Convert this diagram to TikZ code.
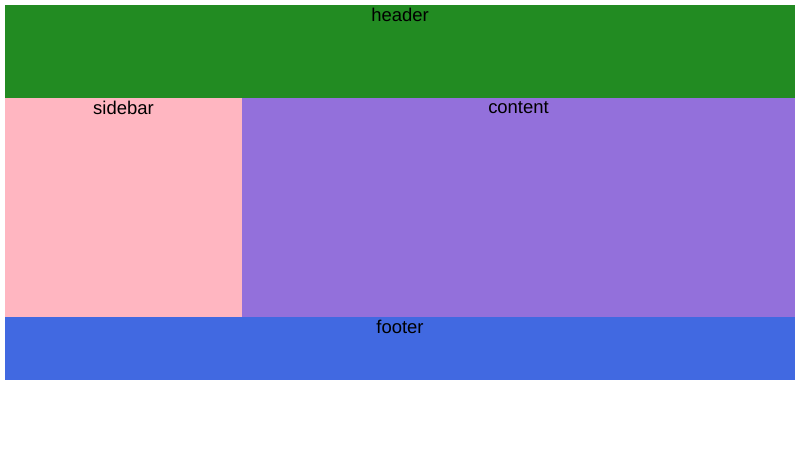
\documentclass[tikz,border=0pt]{standalone}
\usepackage{fontspec}
\setmainfont{Liberation Sans}
\definecolor{hdrgreen}{RGB}{34,139,34}
\definecolor{sidepink}{RGB}{255,182,193}
\definecolor{mainpurple}{RGB}{147,112,219}
\definecolor{footblue}{RGB}{65,105,225}
\tikzset{
  region/.style={inner sep=0pt, outer sep=0pt},
  tag/.style={anchor=north, inner sep=0pt, font=\fontsize{10.5}{12}\selectfont}
}
\begin{document}
\begin{tikzpicture}[x=0.02cm, y=-0.02cm]
  \useasboundingbox (0,0) rectangle (800,450);
  % page regions
  \fill[hdrgreen] (5,5) rectangle (795,98);
  \fill[sidepink] (5,98) rectangle (242,317);
  \fill[mainpurple] (242,98) rectangle (795,317);
  \fill[footblue] (5,317) rectangle (795,380);
  % labels
  \node[tag] (header) at (400,8) {header};
  \node[tag] (sidebar) at (123.5,101) {sidebar};
  \node[tag] (content) at (518.5,101) {content};
  \node[tag] (footer) at (400,320) {footer};
\end{tikzpicture}
\end{document}
